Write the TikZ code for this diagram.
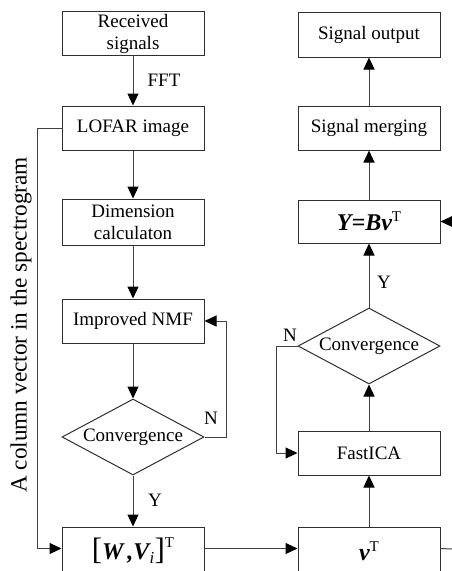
\documentclass[tikz,border=0pt]{standalone}
\usepackage{fontspec}
\setmainfont{Liberation Serif}
\usetikzlibrary{arrows.meta,shapes.geometric}

\definecolor{boxcol}{HTML}{2E2E2E}
\definecolor{linecol}{HTML}{404040}

% bold italic symbols and the raised transpose mark
\newcommand{\bisym}[1]{{\bfseries\itshape #1}}
\newcommand{\trT}[1]{\raisebox{#1}{\fontsize{15}{15}\selectfont T}}

\begin{document}
\begin{tikzpicture}[x=1pt,y=-1pt,
  every node/.style={font=\fontsize{19}{22}\selectfont},
  box/.style={draw=boxcol, line width=1pt, minimum width=142pt,
    minimum height=44pt, inner sep=0pt, align=center},
  tallbox/.style={box, minimum height=48pt},
  decision/.style={draw=boxcol, line width=1pt, diamond, aspect=1.87,
    minimum width=142pt, minimum height=76pt, inner sep=0pt},
  link/.style={draw=linecol, line width=1pt,
    -{Triangle[length=12pt,width=11pt,color=black]}},
  plain/.style={draw=linecol, line width=1pt},
  lbl/.style={inner sep=0pt},
  mathtext/.style={font=\fontsize{24}{24}\selectfont}
]
\useasboundingbox (0,0) rectangle (452,571);
\clip (0,0) rectangle (452,571);

% left column
\node[box] (recv) at (133,33.5) {Received\\signals};
\node[box] (lofar) at (133,128) {LOFAR image};
\node[box, minimum height=46pt] (dim) at (133,222) {Dimension\\calculaton};
\node[box] (nmf) at (133,321) {Improved NMF};
\node[decision] (conv1) at (133,437) {Convergence};
\node[tallbox, mathtext] (wv) at (133,551)
  {{\fontsize{31}{31}\selectfont[}\bisym{W}\,\bisym{,}\bisym{V}\textsubscript{\textit{i}}{\fontsize{31}{31}\selectfont]}\trT{12pt}};

% right column
\node[box, minimum height=45pt] (out) at (369,34.5) {Signal output};
\node[box] (merge) at (369,128) {Signal merging};
\node[box, minimum height=43pt, mathtext] (ybv) at (369,221.5)
  {\bisym{Y}\bisym{=}\bisym{Bv}\trT{9pt}};
\node[decision] (conv2) at (369,346) {Convergence};
\node[box] (ica) at (369,453) {FastICA};
\node[tallbox, mathtext] (vt) at (369,551) {\bisym{v}\trT{9pt}};

% side annotation
\node[rotate=90, font=\fontsize{23.3}{24}\selectfont] (side) at (21,325)
  {A column vector in the spectrogram};

% free ends at the right edge
\coordinate (outR) at (452,549);
\coordinate (inR) at (452,221.5);

% left column flow
\draw[link] (recv) -- (lofar);
\node[lbl] (fft) at (164,80) {FFT};
\draw[link] (lofar) -- (dim);
\draw[link] (dim) -- (nmf);
\draw[link] (nmf) -- (conv1);
\draw[link] (conv1) -- (wv);
\node[lbl] (y1) at (155,500) {Y};
\draw[link] (conv1.east) -- (226,437) |- (nmf.east);
\node[lbl] (n1) at (211,418) {N};
\draw[link] (lofar.west) -- (37,128) |- ([yshift=-22pt]wv.north west);

% bridge between the columns
\draw[link] ([yshift=-22pt]wv.north east) -- ([yshift=-22pt]vt.north west);
\draw[plain] ([yshift=-22pt]vt.north east) -- (outR);

% right column flow
\draw[link] (vt) -- (ica);
\draw[link] (ica) -- (conv2);
\draw[link] (conv2) -- (ybv);
\node[lbl] (y2) at (384,282) {Y};
\draw[link] (conv2.west) -- (276,346) |- (ica.west);
\node[lbl] (n2) at (290,335) {N};
\draw[link] (inR) -- (ybv.east);
\draw[link] (ybv) -- (merge);
\draw[link] (merge) -- (out);
\end{tikzpicture}
\end{document}
